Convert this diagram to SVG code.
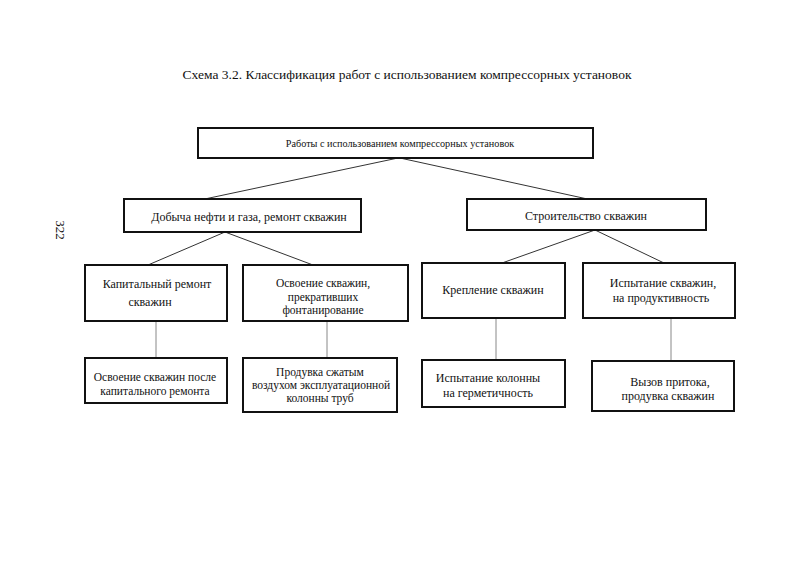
<svg xmlns="http://www.w3.org/2000/svg" width="785" height="588" viewBox="0 0 785 588">
<style>
.box{fill:#fff;stroke:#111;stroke-width:2}
.t{font-family:"Liberation Serif","Times New Roman",serif;font-size:12px;fill:#111;text-anchor:middle}
.s{font-size:11.5px}
.title{font-family:"Liberation Serif","Times New Roman",serif;font-size:13.5px;fill:#111;text-anchor:middle}
.c{stroke:#333;stroke-width:1;fill:none}
.v{stroke:#888;stroke-width:1;fill:none}
</style>
<rect width="785" height="588" fill="#fff"/>
<text class="title" x="407" y="79">Схема 3.2. Классификация работ с использованием компрессорных установок</text>
<text class="t" transform="translate(56,230) rotate(90)" style="font-size:13px">322</text>
<g id="connectors">
<line class="c" x1="398" y1="158" x2="200" y2="200"/>
<line class="c" x1="400" y1="158" x2="592" y2="200"/>
<line class="c" x1="225" y1="232" x2="148" y2="265"/>
<line class="c" x1="225" y1="232" x2="313" y2="265"/>
<line class="c" x1="595" y1="230" x2="502" y2="263"/>
<line class="c" x1="595" y1="230" x2="664" y2="263"/>
<line class="v" x1="156" y1="321" x2="156" y2="358"/>
<line class="v" x1="327" y1="321" x2="327" y2="358"/>
<line class="v" x1="496" y1="318" x2="496" y2="360"/>
<line class="v" x1="671" y1="318" x2="671" y2="361"/>
</g>
<g id="root">
<rect class="box" x="198" y="128" width="395" height="30"/>
<text class="t" x="400" y="147" style="font-size:10.2px">Работы с использованием компрессорных установок</text>
</g>
<g id="production">
<rect class="box" x="124" y="199" width="237" height="33"/>
<text class="t" x="249" y="221">Добыча нефти и газа, ремонт скважин</text>
</g>
<g id="construction">
<rect class="box" x="467" y="199" width="239" height="31"/>
<text class="t" x="586" y="220">Строительство скважин</text>
</g>
<g id="overhaul">
<rect class="box" x="85" y="265" width="142" height="56"/>
<text class="t" x="157" y="288">Капитальный ремонт</text>
<text class="t" x="150" y="306">скважин</text>
</g>
<g id="stopped">
<rect class="box" x="243" y="265" width="165" height="56"/>
<text class="t s" x="323" y="287">Освоение скважин,</text>
<text class="t s" x="323" y="300.5">прекративших</text>
<text class="t s" x="323" y="314">фонтанирование</text>
</g>
<g id="casing">
<rect class="box" x="422" y="263" width="143" height="55"/>
<text class="t" x="493" y="294">Крепление  скважин</text>
</g>
<g id="testing">
<rect class="box" x="583" y="263" width="152" height="55"/>
<text class="t" x="663" y="287">Испытание скважин,</text>
<text class="t" x="661" y="302">на продуктивность</text>
</g>
<g id="after-overhaul">
<rect class="box" x="85" y="358" width="142" height="45"/>
<text class="t s" x="155" y="381">Освоение скважин после</text>
<text class="t s" x="155" y="394.5">капитального ремонта</text>
</g>
<g id="blowing">
<rect class="box" x="243" y="358" width="154" height="54"/>
<text class="t s" x="320" y="376">Продувка сжатым</text>
<text class="t s" x="321" y="389">воздухом эксплуатационной</text>
<text class="t s" x="320" y="402">колонны труб</text>
</g>
<g id="pressure-test">
<rect class="box" x="422" y="360" width="143" height="47"/>
<text class="t" x="488" y="382">Испытание колонны</text>
<text class="t" x="488" y="397">на герметичность</text>
</g>
<g id="inflow">
<rect class="box" x="592" y="361" width="142" height="50"/>
<text class="t" x="670" y="386">Вызов притока,</text>
<text class="t" x="668" y="399.5">продувка скважин</text>
</g>
</svg>
